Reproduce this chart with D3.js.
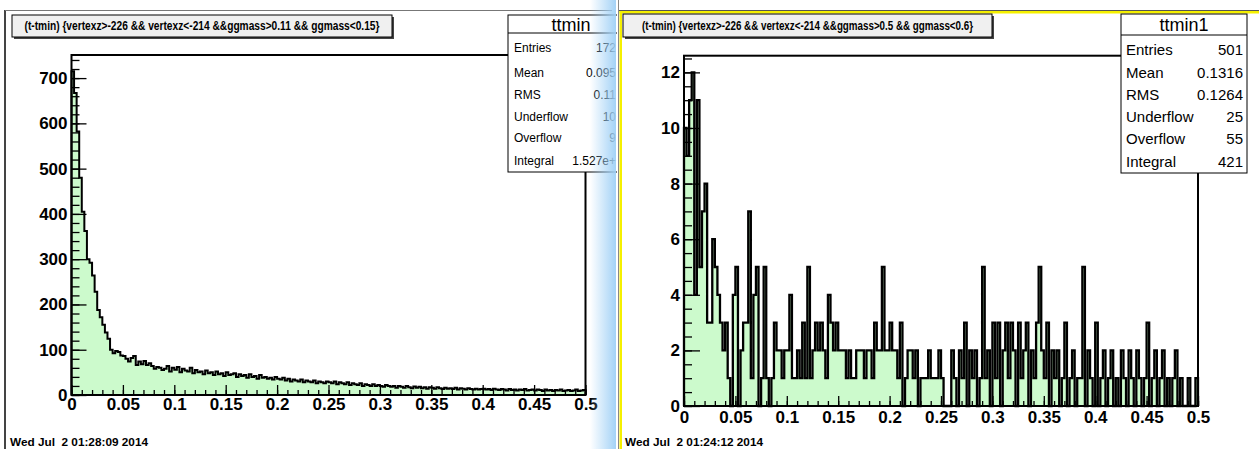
<!DOCTYPE html>
<html>
<head>
<meta charset="utf-8">
<script src="https://cdn.jsdelivr.net/npm/d3@7"></script>
<style>
  body { margin: 0; background: #fff; }
  svg { display: block; }
</style>
</head>
<body>
<svg id="c" width="1259" height="449"></svg>
<script>
// ---- data -------------------------------------------------------------
const nBins = 200;
const xMin = 0, xMax = 0.5;

// ttmin : (t-tmin) for 0.11 < ggmass < 0.15
const ttminCounts = [
  715, 667, 582, 480, 405, 362, 300, 292, 264, 228, 188, 172, 155, 138, 124, 100, 92, 97, 95, 87,
  86, 80, 74, 82, 86, 66, 74, 68, 75, 66, 70, 64, 58, 62, 60, 55, 58, 64, 52, 60,
  56, 62, 50, 58, 54, 52, 60, 48, 55, 50, 52, 46, 54, 48, 50, 44, 52, 46, 48, 42,
  50, 44, 46, 48, 40, 46, 42, 44, 38, 46, 40, 42, 36, 44, 38, 40, 36, 38, 34, 40,
  36, 34, 38, 32, 36, 30, 34, 32, 30, 34, 28, 32, 30, 28, 32, 26, 30, 28, 26, 30,
  28, 26, 30, 24, 28, 26, 24, 28, 22, 26, 24, 22, 26, 20, 24, 22, 20, 24, 20, 22,
  20, 18, 22, 20, 18, 20, 16, 20, 18, 16, 20, 17, 15, 19, 16, 18, 15, 17, 14, 17,
  16, 14, 17, 15, 13, 16, 14, 15, 13, 16, 12, 15, 14, 12, 15, 13, 12, 14, 12, 13,
  14, 12, 13, 11, 14, 12, 11, 13, 12, 10, 13, 11, 12, 10, 12, 11, 13, 10, 11, 12,
  10, 12, 11, 9, 12, 10, 11, 9, 11, 10, 12, 9, 10, 11, 9, 10, 12, 9, 10, 11
];

// ttmin1 : (t-tmin) for 0.5 < ggmass < 0.6
const ttmin1Counts = [
  10, 9, 11, 12, 4, 11, 5, 7, 8, 3, 3, 6, 5, 4, 3, 2, 3, 1, 0, 4,
  5, 0, 2, 3, 3, 7, 1, 4, 5, 0, 1, 5, 1, 0, 1, 3, 2, 2, 1, 2,
  2, 4, 1, 1, 2, 1, 3, 1, 5, 1, 2, 3, 2, 3, 2, 1, 4, 3, 2, 3,
  2, 2, 2, 1, 2, 1, 1, 2, 2, 2, 1, 2, 2, 1, 3, 2, 2, 5, 2, 2,
  3, 2, 2, 1, 3, 0, 1, 2, 2, 1, 2, 0, 1, 1, 1, 2, 1, 1, 1, 2,
  1, 0, 0, 0, 2, 1, 0, 2, 1, 3, 0, 2, 1, 2, 0, 1, 5, 1, 2, 0,
  3, 1, 3, 0, 2, 3, 1, 3, 2, 0, 3, 1, 2, 3, 0, 2, 1, 3, 5, 2,
  1, 3, 0, 2, 1, 2, 0, 1, 3, 0, 1, 2, 0, 1, 1, 5, 0, 2, 1, 0,
  3, 0, 1, 2, 0, 1, 2, 0, 1, 0, 2, 1, 0, 2, 1, 0, 2, 1, 0, 1,
  3, 0, 1, 2, 0, 1, 2, 0, 1, 0, 1, 2, 0, 1, 0, 0, 1, 0, 0, 1
];

const xTickValues = [0, 0.05, 0.1, 0.15, 0.2, 0.25, 0.3, 0.35, 0.4, 0.45, 0.5];
const ttminYTicks = [0, 100, 200, 300, 400, 500, 600, 700];
const ttmin1YTicks = [0, 2, 4, 6, 8, 10, 12];

const statLabels = ["Entries", "Mean", "RMS", "Underflow", "Overflow", "Integral"];
const ttminStatValues = ["172", "0.095", "0.11", "10", "9", "1.527e+"];
const ttmin1StatValues = ["501", "0.1316", "0.1264", "25", "55", "421"];

const ttminTitle = "(t-tmin) {vertexz>-226 && vertexz<-214 &&ggmass>0.11 && ggmass<0.15}";
const ttmin1Title = "(t-tmin) {vertexz>-226 && vertexz<-214 &&ggmass>0.5 && ggmass<0.6}";
const ttminDate = "Wed Jul  2 01:28:09 2014";
const ttmin1Date = "Wed Jul  2 01:24:12 2014";

// ---- drawing ----------------------------------------------------------
const svg = d3.select("#c");
const defs = svg.append("defs");
const edges = d3.range(nBins + 1).map(i => xMin + (xMax - xMin) * i / nBins);

const FILL = "#ccfacc";
const FONT = "'Liberation Sans', Arial, Helvetica, sans-serif";

function drawPad(p) {
  const g = svg.append("g");
  if (p.clipW) {
    defs.append("clipPath").attr("id", p.id + "-clip")
      .append("rect").attr("x", 0).attr("y", 0).attr("width", p.clipW).attr("height", 449);
    g.attr("clip-path", `url(#${p.id}-clip)`);
  }

  const x = d3.scaleLinear().domain([xMin, xMax]).range([p.fx0, p.fx1]);
  const y = d3.scaleLinear().domain([0, p.yMax]).range([p.fy1, p.fy0]);

  // histogram fill as a step area
  const steps = p.counts.map((c, i) => [edges[i], c]);
  steps.push([edges[nBins], p.counts[nBins - 1]]);
  const area = d3.area().curve(d3.curveStepAfter)
    .x(d => x(d[0])).y0(y(0)).y1(d => y(d[1]));
  g.append("path").attr("d", area(steps)).attr("fill", FILL);

  // histogram outline
  const pts = [[edges[0], 0]];
  p.counts.forEach((c, i) => { pts.push([edges[i], c]); pts.push([edges[i + 1], c]); });
  pts.push([edges[nBins], 0]);
  const outline = d3.line().x(d => x(d[0])).y(d => y(d[1]));
  g.append("path").attr("d", outline(pts)).attr("fill", "none")
    .attr("stroke", "#000").attr("stroke-width", p.lw);

  // frame
  g.append("rect").attr("x", p.fx0).attr("y", p.fy0)
    .attr("width", p.fx1 - p.fx0).attr("height", p.fy1 - p.fy0)
    .attr("fill", "none").attr("stroke", "#000").attr("stroke-width", 2);

  const styleLabels = a => a.selectAll("text").attr("font-family", FONT).attr("font-weight", "bold")
      .attr("font-size", 17).attr("fill", "#000");

  // y axis: ticks point into the frame
  const yMinor = d3.range(0, p.yMax, p.yMinorStep);
  g.append("g").attr("transform", `translate(${p.fx0},0)`)
    .call(d3.axisLeft(y).tickValues(yMinor).tickSize(-p.yMinorLen).tickFormat(""))
    .call(a => a.select(".domain").remove());
  g.append("g").attr("transform", `translate(${p.fx0},0)`)
    .call(d3.axisLeft(y).tickValues(p.yTicks).tickSize(-p.yMajorLen).tickPadding(4).tickFormat(d3.format("d")))
    .call(a => a.select(".domain").remove())
    .call(styleLabels);

  // x axis: ticks point up into the frame
  const xMinor = d3.range(0, 51).map(i => i / 100);
  g.append("g").attr("transform", `translate(0,${p.fy1})`)
    .call(d3.axisBottom(x).tickValues(xMinor).tickSize(-p.xMinorLen).tickFormat(""))
    .call(a => a.select(".domain").remove());
  g.append("g").attr("transform", `translate(0,${p.fy1})`)
    .call(d3.axisBottom(x).tickValues(xTickValues).tickSize(-p.xMajorLen).tickPadding(p.xPad)
      .tickFormat(d => String(+d.toFixed(2))))
    .call(a => a.select(".domain").remove())
    .call(styleLabels);
  g.selectAll(".tick line").attr("stroke", "#000").attr("stroke-width", 1.3);

  // title box with drop shadow
  const t = p.titleBox;
  g.append("rect").attr("x", t.x + 2).attr("y", t.y + 2).attr("width", t.w).attr("height", t.h).attr("fill", "#444");
  g.append("rect").attr("x", t.x).attr("y", t.y).attr("width", t.w).attr("height", t.h)
    .attr("fill", "#f0f0f0").attr("stroke", "#000").attr("stroke-width", 1);
  g.append("text").attr("x", t.x + t.w / 2).attr("y", t.y + t.h / 2 + 4)
    .attr("text-anchor", "middle").attr("font-family", FONT).attr("font-weight", "bold")
    .attr("font-size", 12).attr("textLength", t.tl).attr("lengthAdjust", "spacingAndGlyphs")
    .text(p.title);

  // statistics box
  const s = p.stats;
  const sb = g.append("g");
  sb.append("rect").attr("x", s.x).attr("y", s.y).attr("width", s.w).attr("height", s.h)
    .attr("fill", "#fff").attr("stroke", "#000").attr("stroke-width", 1);
  sb.append("line").attr("x1", s.x).attr("x2", s.x + s.w).attr("y1", s.sep).attr("y2", s.sep)
    .attr("stroke", "#000");
  sb.append("text").attr("x", s.x + s.w / 2).attr("y", s.titleY).attr("text-anchor", "middle")
    .attr("font-family", FONT).attr("font-size", s.titleSize).text(s.name);
  statLabels.forEach((lab, i) => {
    sb.append("text").attr("x", s.x + s.padL).attr("y", s.rowY[i])
      .attr("font-family", FONT).attr("font-size", s.size).text(lab);
    sb.append("text").attr("x", s.valX).attr("y", s.rowY[i]).attr("text-anchor", "end")
      .attr("font-family", FONT).attr("font-size", s.size).text(s.values[i]);
  });

  // date stamp
  g.append("text").attr("x", p.dateX).attr("y", 446).style("white-space", "pre")
    .attr("font-family", FONT).attr("font-weight", "bold").attr("font-size", 10)
    .attr("textLength", 138).attr("lengthAdjust", "spacingAndGlyphs")
    .text(p.date);
  return g;
}

// left canvas border
svg.append("line").attr("x1", 5).attr("x2", 5).attr("y1", 10).attr("y2", 449)
  .attr("stroke", "#444").attr("stroke-width", 2);
svg.append("line").attr("x1", 5).attr("x2", 612).attr("y1", 10.5).attr("y2", 10.5)
  .attr("stroke", "#777").attr("stroke-width", 1);

drawPad({
  id: "ttmin", clipW: 617, counts: ttminCounts, yMax: 751, yTicks: ttminYTicks, yMinorStep: 20,
  fx0: 71.5, fx1: 585.5, fy0: 55, fy1: 395, lw: 2, xPad: 3,
  yMajorLen: 15, yMinorLen: 8, xMajorLen: 10, xMinorLen: 5,
  title: ttminTitle, titleBox: { x: 12, y: 15, w: 380, h: 22, tl: 355 },
  stats: { x: 508, y: 15, w: 126, h: 157, sep: 33, titleY: 31, titleSize: 18, name: "ttmin",
           padL: 6, valX: 616, size: 12, rowY: [52, 77, 99, 121, 142, 165], values: ttminStatValues },
  date: ttminDate, dateX: 10
});

// window edge shading between the two canvases
const grad = defs.append("linearGradient").attr("id", "edge").attr("x1", 0).attr("x2", 1).attr("y1", 0).attr("y2", 0);
grad.append("stop").attr("offset", "0%").attr("stop-color", "#9fd0f6").attr("stop-opacity", 0);
grad.append("stop").attr("offset", "100%").attr("stop-color", "#9fd0f6").attr("stop-opacity", 0.95);
svg.append("rect").attr("x", 590).attr("y", 0).attr("width", 26).attr("height", 449).attr("fill", "url(#edge)");

// right canvas border (highlighted)
svg.append("line").attr("x1", 618.5).attr("x2", 618.5).attr("y1", 0).attr("y2", 449).attr("stroke", "#888");
svg.append("rect").attr("x", 619.5).attr("y", 11).attr("width", 640).attr("height", 2.5).attr("fill", "#f5f000");
svg.append("rect").attr("x", 619.5).attr("y", 11).attr("width", 2.5).attr("height", 438).attr("fill", "#f5f000");
svg.append("line").attr("x1", 619).attr("x2", 1259).attr("y1", 10.5).attr("y2", 10.5).attr("stroke", "#555");

drawPad({
  id: "ttmin1", counts: ttmin1Counts, yMax: 12.6, yTicks: ttmin1YTicks, yMinorStep: 0.5,
  fx0: 684, fx1: 1198, fy0: 55.7, fy1: 406, lw: 2.3, xPad: 5,
  yMajorLen: 16, yMinorLen: 8, xMajorLen: 10, xMinorLen: 5,
  title: ttmin1Title, titleBox: { x: 623, y: 14, w: 369, h: 23, tl: 331 },
  stats: { x: 1121, y: 14, w: 126, h: 159, sep: 35, titleY: 31, titleSize: 18, name: "ttmin1",
           padL: 5, valX: 1243, size: 15, rowY: [55, 78, 100, 122, 144, 167], values: ttmin1StatValues },
  date: ttmin1Date, dateX: 625
});
</script>
</body>
</html>
